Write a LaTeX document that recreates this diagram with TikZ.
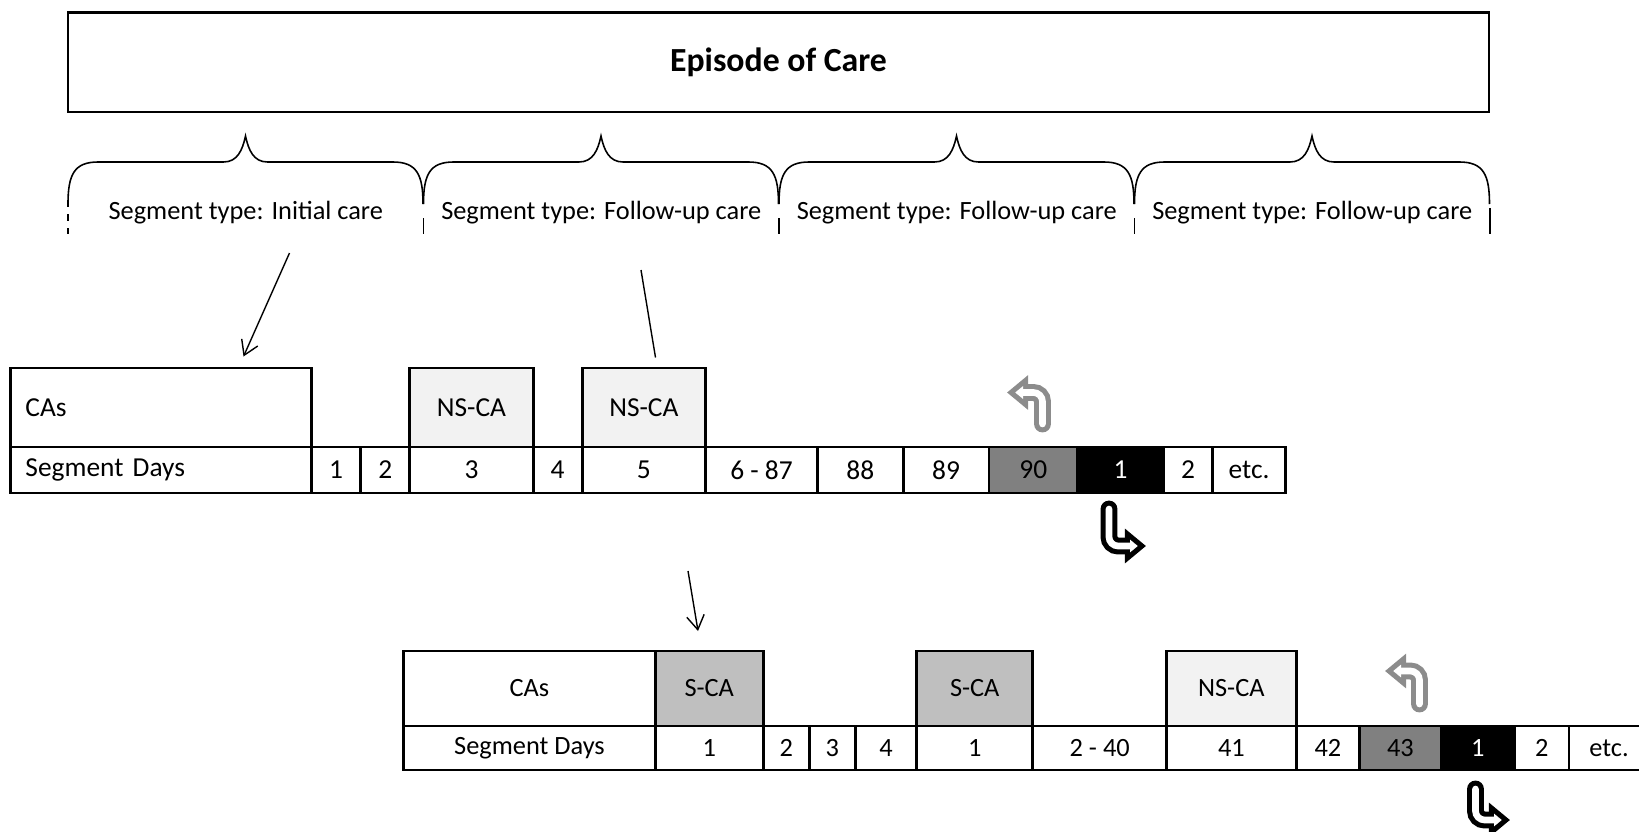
\documentclass[tikz,border=0pt]{standalone}
\usepackage{fontspec}
\setmainfont{Carlito}
\usepackage{tikz}
\usetikzlibrary{arrows.meta}
\definecolor{nsgray}{HTML}{F2F2F2}
\definecolor{sgray}{HTML}{BFBFBF}
\definecolor{lastgray}{HTML}{808080}
\definecolor{turngray}{HTML}{8C8C8C}

\tikzset{
  cell/.style = {draw, line width = .8pt, inner sep = 0},
  tophead/.style = {cell, minimum height = .79cm, font = \fontsize{7.8}{9}\selectfont},
  topday/.style = {cell, minimum height = .46cm, font = \fontsize{7.8}{9}\selectfont},
  bothead/.style = {cell, minimum height = .75cm, font = \fontsize{7.5}{9}\selectfont},
  botday/.style = {cell, minimum height = .44cm, font = \fontsize{7.5}{9}\selectfont},
  nsca/.style = {fill = nsgray},
  sca/.style = {fill = sgray},
  lastday/.style = {fill = lastgray},
  newday/.style = {fill = black, text = white},
  bracestroke/.style = {line width = .45pt},
  seglabel/.style = {font = \fontsize{7.5}{9}\selectfont},
  pointer/.style = {line width = .4pt, -{Straight Barb[length = 4pt, width = 5pt]}},
  turnout/.style = {line width = 4.8pt, line cap = round, rounded corners = 2.6pt, -{Triangle[length = 6pt, width = 9.5pt]}},
  turnin/.style = {line width = 1.9pt, white, line cap = round, rounded corners = 2.6pt, shorten > = 2.33pt, -{Triangle[length = 2.22pt, width = 3.5pt]}}
}

\begin{document}
\begin{tikzpicture}
  \useasboundingbox (0, 0) rectangle (16.39, -8.31);

  % episode and its segments
  \node [draw, line width = .6pt, minimum width = 14.21cm, minimum height = .995cm, font = \fontsize{9.6}{11}\selectfont\bfseries] (episode) at (7.785, -.6225) {Episode of Care};
  \draw [bracestroke] (.68, -2.04) .. controls +(0, .29) and +(-.24, 0) .. ++(.3, .42) -- ++(1.255, 0) .. controls +(.14, 0) and +(-.03, -.14) .. ++(.22, .26) .. controls +(.03, -.14) and +(-.14, 0) .. ++(.22, -.26) -- ++(1.255, 0) .. controls +(.24, 0) and +(0, .29) .. ++(.3, -.42);
  \draw [bracestroke] (4.235, -2.04) .. controls +(0, .29) and +(-.24, 0) .. ++(.3, .42) -- ++(1.255, 0) .. controls +(.14, 0) and +(-.03, -.14) .. ++(.22, .26) .. controls +(.03, -.14) and +(-.14, 0) .. ++(.22, -.26) -- ++(1.255, 0) .. controls +(.24, 0) and +(0, .29) .. ++(.3, -.42);
  \draw [bracestroke] (7.79, -2.04) .. controls +(0, .29) and +(-.24, 0) .. ++(.3, .42) -- ++(1.255, 0) .. controls +(.14, 0) and +(-.03, -.14) .. ++(.22, .26) .. controls +(.03, -.14) and +(-.14, 0) .. ++(.22, -.26) -- ++(1.255, 0) .. controls +(.24, 0) and +(0, .29) .. ++(.3, -.42);
  \draw [bracestroke] (11.345, -2.04) .. controls +(0, .29) and +(-.24, 0) .. ++(.3, .42) -- ++(1.255, 0) .. controls +(.14, 0) and +(-.03, -.14) .. ++(.22, .26) .. controls +(.03, -.14) and +(-.14, 0) .. ++(.22, -.26) -- ++(1.255, 0) .. controls +(.24, 0) and +(0, .29) .. ++(.3, -.42);
  \draw [line width = .4pt, dashed, dash pattern = on 2pt off 2pt] (.68, -2.0) -- (.68, -2.34);
  \draw [line width = .4pt] (4.235, -2.18) -- (4.235, -2.34) (7.79, -2.18) -- (7.79, -2.34) (11.345, -2.18) -- (11.345, -2.34) (14.9, -2.08) -- (14.9, -2.34);
  \node [seglabel] (seg1) at (2.4575, -2.13) {Segment type: Initial care};
  \node [seglabel] (seg2) at (6.0125, -2.13) {Segment type: Follow-up care};
  \node [seglabel] (seg3) at (9.5675, -2.13) {Segment type: Follow-up care};
  \node [seglabel] (seg4) at (13.1225, -2.13) {Segment type: Follow-up care};

  % pointers from the segments
  \coordinate (ini-top) at (2.895, -2.53);
  \coordinate (ini-end) at (2.435, -3.565);
  \coordinate (fol-top) at (6.41, -2.70);
  \coordinate (fol-end) at (6.555, -3.575);
  \coordinate (fol-top2) at (6.88, -5.71);
  \coordinate (fol-end2) at (6.98, -6.31);
  \draw [pointer] (ini-top) -- (ini-end);
  \draw [line width = .4pt] (fol-top) -- (fol-end);
  \draw [pointer] (fol-top2) -- (fol-end2);

  % initial care segment
  \node [tophead, minimum width = 3.01cm, text width = 2.71cm, align = left] (cas1) at (1.61, -4.075) {CAs};
  \node [tophead, nsca, minimum width = 1.233cm] (ns1) at (4.7145, -4.075) {NS-CA};
  \node [tophead, nsca, minimum width = 1.234cm] (ns2) at (6.439, -4.075) {NS-CA};
  \node [topday, minimum width = 3.01cm, text width = 2.71cm, align = left] (days1) at (1.61, -4.70) {Segment Days};
  \node [topday, minimum width = .491cm] (u1) at (3.3605, -4.70) {1};
  \node [topday, minimum width = .492cm] (u2) at (3.852, -4.70) {2};
  \node [topday, minimum width = 1.233cm] (u3) at (4.7145, -4.70) {3};
  \node [topday, minimum width = .491cm] (u4) at (5.5765, -4.70) {4};
  \node [topday, minimum width = 1.234cm] (u5) at (6.439, -4.70) {5};
  \node [topday, minimum width = 1.118cm] (u6) at (7.615, -4.70) {6 - 87};
  \node [topday, minimum width = .857cm] (u7) at (8.6025, -4.70) {88};
  \node [topday, minimum width = .858cm] (u8) at (9.46, -4.70) {89};
  \node [topday, lastday, minimum width = .888cm] (u9) at (10.333, -4.70) {90};
  \node [topday, newday, minimum width = .857cm] (u10) at (11.2055, -4.70) {1};
  \node [topday, minimum width = .491cm] (u11) at (11.8795, -4.70) {2};
  \node [topday, minimum width = .732cm] (u12) at (12.491, -4.70) {etc.};
  \coordinate (back1) at (10.425, -4.24);
  \coordinate (back1e) at (10.07, -3.925);
  \draw [turnout, turngray] (back1) |- (back1e);
  \draw [turnin] (back1) |- (back1e);
  \coordinate (next1) at (11.09, -5.09);
  \coordinate (next1e) at (11.46, -5.46);
  \draw [turnout, black] (next1) |- (next1e);
  \draw [turnin] (next1) |- (next1e);

  % follow-up care segment
  \node [bothead, minimum width = 2.519cm] (cas2) at (5.2945, -6.885) {CAs};
  \node [bothead, sca, minimum width = 1.077cm] (sca1) at (7.0925, -6.885) {S-CA};
  \node [bothead, sca, minimum width = 1.161cm] (sca2) at (9.7475, -6.885) {S-CA};
  \node [bothead, nsca, minimum width = 1.296cm] (ns3) at (12.314, -6.885) {NS-CA};
  \node [botday, minimum width = 2.519cm] (days2) at (5.2945, -7.48) {Segment Days};
  \node [botday, minimum width = 1.077cm] (v1) at (7.0925, -7.48) {1};
  \node [botday, minimum width = .464cm] (v2) at (7.863, -7.48) {2};
  \node [botday, minimum width = .458cm] (v3) at (8.324, -7.48) {3};
  \node [botday, minimum width = .614cm] (v4) at (8.86, -7.48) {4};
  \node [botday, minimum width = 1.161cm] (v5) at (9.7475, -7.48) {1};
  \node [botday, minimum width = 1.338cm] (v6) at (10.997, -7.48) {2 - 40};
  \node [botday, minimum width = 1.296cm] (v7) at (12.314, -7.48) {41};
  \node [botday, minimum width = .633cm] (v8) at (13.279, -7.48) {42};
  \node [botday, lastday, minimum width = .818cm] (v9) at (14.004, -7.48) {43};
  \node [botday, newday, minimum width = .732cm] (v10) at (14.779, -7.48) {1};
  \node [botday, minimum width = .545cm] (v11) at (15.4175, -7.48) {2};
  \node [botday, minimum width = .8cm] (v12) at (16.09, -7.48) {etc.};
  \coordinate (back2) at (14.195, -7.04);
  \coordinate (back2e) at (13.85, -6.71);
  \draw [turnout, turngray] (back2) |- (back2e);
  \draw [turnin] (back2) |- (back2e);
  \coordinate (next2) at (14.755, -7.89);
  \coordinate (next2e) at (15.10, -8.20);
  \draw [turnout, black] (next2) |- (next2e);
  \draw [turnin] (next2) |- (next2e);
\end{tikzpicture}
\end{document}
